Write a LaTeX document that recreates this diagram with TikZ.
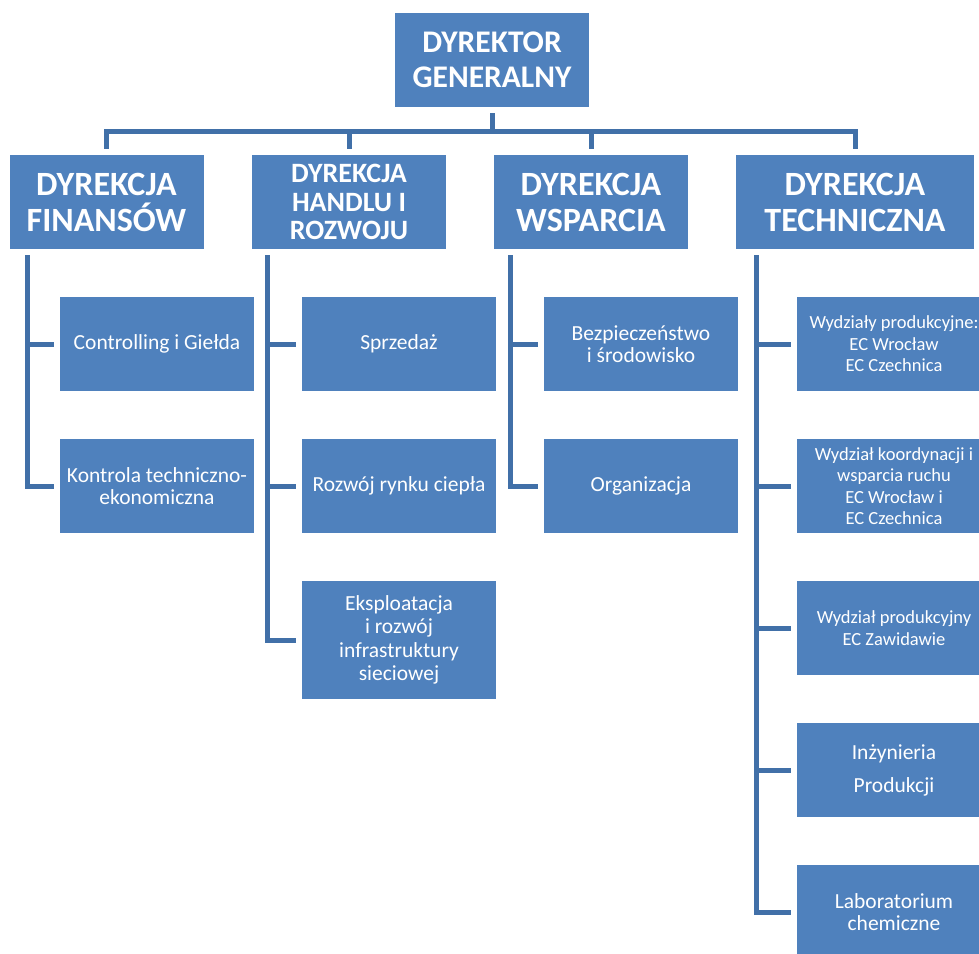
\documentclass[tikz,border=0pt]{standalone}
\usepackage{fontspec}
\setmainfont{Carlito}
\definecolor{boxblue}{RGB}{79,129,189}
\definecolor{lineblue}{RGB}{65,112,168}
\tikzset{
  box/.style={rectangle, fill=boxblue, draw=none, minimum width=194pt, minimum height=94pt, inner sep=2pt, align=center, text=white, font=\fontsize{21.5}{22}\selectfont},
  head/.style={box, font=\fontsize{34}{36}\selectfont\bfseries},
  headsm/.style={box, font=\fontsize{28}{28.5}\selectfont\bfseries},
  tbox/.style={box, font=\fontsize{18.5}{21.5}\selectfont},
  conn/.style={draw=lineblue, line width=5pt, shorten <=6pt, shorten >=6pt}
}
\begin{document}
\begin{tikzpicture}[x=1pt,y=-1pt]
\useasboundingbox[fill=white] (0,0) rectangle (979,953);
% top
\node[head, font=\fontsize{31.5}{35}\selectfont\bfseries] (dg) at (492,60) {DYREKTOR\\GENERALNY};
% headers
\node[head] (f) at (106.5,202) {DYREKCJA\\FINANSÓW};
\node[headsm] (h) at (349,202) {DYREKCJA\\HANDLU I\\ROZWOJU};
\node[head] (w) at (591,202) {DYREKCJA\\WSPARCIA};
\node[head, minimum width=238pt] (t) at (855,202) {DYREKCJA\\TECHNICZNA};
% children col 1
\node[box] (c1) at (157,344) {Controlling i Giełda};
\node[box] (c2) at (157,486) {Kontrola techniczno-\\ekonomiczna};
% col 2
\node[box] (s1) at (399,344) {Sprzedaż};
\node[box] (s2) at (399,486) {Rozwój rynku ciepła};
\node[box, minimum height=118pt, font=\fontsize{21.5}{23.5}\selectfont] (s3) at (399,640) {Eksploatacja\\i rozwój\\infrastruktury\\sieciowej};
% col 3
\node[box] (b1) at (641,344) {Bezpieczeństwo\\i środowisko};
\node[box] (b2) at (641,486) {Organizacja};
% col 4
\node[tbox] (t1) at (894,344) {Wydziały produkcyjne:\\EC Wrocław\\EC Czechnica};
\node[tbox] (t2) at (894,486) {Wydział koordynacji i\\wsparcia ruchu\\EC Wrocław i\\EC Czechnica};
\node[tbox] (t3) at (894,628) {Wydział produkcyjny\\EC Zawidawie};
\node[box, font=\fontsize{21.5}{33}\selectfont] (t4) at (894,770) {Inżynieria\\Produkcji};
\node[box] (t5) at (894,912) {Laboratorium\\chemiczne};
% connectors top
\foreach \n in {f,h,w,t}
  \draw[conn] (dg.south) -- ++(0,24) -| (\n.north);
% col 1
\foreach \n in {c1,c2}
  \draw[conn] ([xshift=18pt]f.south west) |- (\n.west);
% col 2
\foreach \n in {s1,s2,s3}
  \draw[conn] ([xshift=16pt]h.south west) |- (\n.west);
% col 3
\foreach \n in {b1,b2}
  \draw[conn] ([xshift=17pt]w.south west) |- (\n.west);
% col 4
\foreach \n in {t1,t2,t3,t4,t5}
  \draw[conn] ([xshift=21pt]t.south west) |- (\n.west);
\end{tikzpicture}
\end{document}
